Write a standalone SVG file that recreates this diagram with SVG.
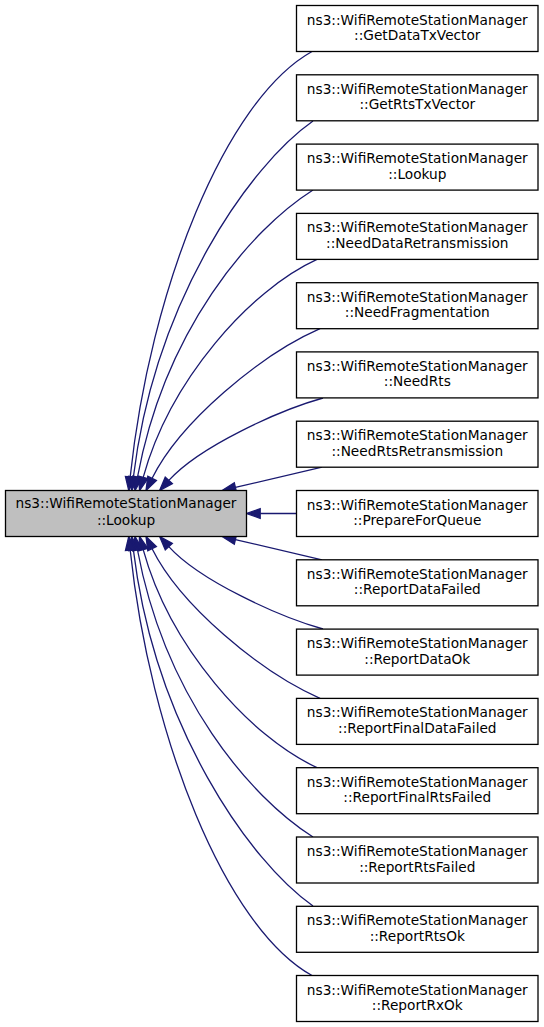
<svg xmlns="http://www.w3.org/2000/svg" width="544" height="1027" viewBox="0 0 544 1027">
<style>
.n rect{fill:#ffffff;stroke:#000000;stroke-width:1.3}
.n.cur rect{fill:#bfbfbf}
.n text{font-family:"DejaVu Sans","Liberation Sans",sans-serif;font-size:13.7px;text-anchor:middle;fill:#000000}
.e path{fill:none;stroke:#191970;stroke-width:1.3;marker-end:url(#ah)}
</style>
<defs>
<marker id="ah" markerUnits="userSpaceOnUse" markerWidth="16" markerHeight="12" viewBox="0 -6 16 12" refX="0" refY="0" orient="auto" overflow="visible">
<path d="M0,-4.8 L13.7,0 L0,4.8 z" fill="#191970" stroke="#191970" stroke-width="1.3"/>
</marker>
</defs>
<rect width="544" height="1027" fill="#ffffff"/>
<g class="e" id="edges">
<path d="M312,51.5 C225,100 150,290 130.2,476.9"/>
<path d="M313,121 C250,165 155,300 133.4,476.9"/>
<path d="M313,190 C250,230 165,330 137.5,477"/>
<path d="M317,259.4 C250,290 170,380 143.2,477.3"/>
<path d="M320,328.7 C260,355 180,422 152.1,478.3"/>
<path d="M323,398 C280,410 200,446 168.8,480.4"/>
<path d="M322,467.2 L235.4,487.4"/>
<path d="M296.5,513.5 L260.2,513.5"/>
<path d="M322,559.8 L235.4,539.6"/>
<path d="M323,629 C280,617 200,581 168.8,546.6"/>
<path d="M320,698.3 C260,672 180,605 152.1,548.7"/>
<path d="M317,767.6 C250,737 170,647 143.2,549.7"/>
<path d="M313,837 C250,797 165,697 137.5,550"/>
<path d="M313,906 C250,862 155,727 133.4,550.1"/>
<path d="M312,975.5 C225,927 150,737 130.2,550.1"/>
</g>
<g class="n cur" id="node_lookup_main"><rect x="5.5" y="490.5" width="241" height="46"/><text x="126" y="508">ns3::WifiRemoteStationManager</text><text x="126" y="524.5">::Lookup</text></g>
<g class="n" id="n1"><rect x="296.5" y="5.5" width="241.5" height="46"/><text x="417.3" y="24.5">ns3::WifiRemoteStationManager</text><text x="417.3" y="40">::GetDataTxVector</text></g>
<g class="n" id="n2"><rect x="296.5" y="74.8" width="241.5" height="46"/><text x="417.3" y="93.8">ns3::WifiRemoteStationManager</text><text x="417.3" y="109.3">::GetRtsTxVector</text></g>
<g class="n" id="n3"><rect x="296.5" y="144.1" width="241.5" height="46"/><text x="417.3" y="163.1">ns3::WifiRemoteStationManager</text><text x="417.3" y="178.6">::Lookup</text></g>
<g class="n" id="n4"><rect x="296.5" y="213.4" width="241.5" height="46"/><text x="417.3" y="232.4">ns3::WifiRemoteStationManager</text><text x="417.3" y="247.9">::NeedDataRetransmission</text></g>
<g class="n" id="n5"><rect x="296.5" y="282.7" width="241.5" height="46"/><text x="417.3" y="301.7">ns3::WifiRemoteStationManager</text><text x="417.3" y="317.2">::NeedFragmentation</text></g>
<g class="n" id="n6"><rect x="296.5" y="351.9" width="241.5" height="46"/><text x="417.3" y="370.9">ns3::WifiRemoteStationManager</text><text x="417.3" y="386.4">::NeedRts</text></g>
<g class="n" id="n7"><rect x="296.5" y="421.2" width="241.5" height="46"/><text x="417.3" y="440.2">ns3::WifiRemoteStationManager</text><text x="417.3" y="455.7">::NeedRtsRetransmission</text></g>
<g class="n" id="n8"><rect x="296.5" y="490.5" width="241.5" height="46"/><text x="417.3" y="509.5">ns3::WifiRemoteStationManager</text><text x="417.3" y="525">::PrepareForQueue</text></g>
<g class="n" id="n9"><rect x="296.5" y="559.8" width="241.5" height="46"/><text x="417.3" y="578.8">ns3::WifiRemoteStationManager</text><text x="417.3" y="594.3">::ReportDataFailed</text></g>
<g class="n" id="n10"><rect x="296.5" y="629.1" width="241.5" height="46"/><text x="417.3" y="648.1">ns3::WifiRemoteStationManager</text><text x="417.3" y="663.6">::ReportDataOk</text></g>
<g class="n" id="n11"><rect x="296.5" y="698.4" width="241.5" height="46"/><text x="417.3" y="717.4">ns3::WifiRemoteStationManager</text><text x="417.3" y="732.9">::ReportFinalDataFailed</text></g>
<g class="n" id="n12"><rect x="296.5" y="767.7" width="241.5" height="46"/><text x="417.3" y="786.7">ns3::WifiRemoteStationManager</text><text x="417.3" y="802.2">::ReportFinalRtsFailed</text></g>
<g class="n" id="n13"><rect x="296.5" y="837" width="241.5" height="46"/><text x="417.3" y="856">ns3::WifiRemoteStationManager</text><text x="417.3" y="871.5">::ReportRtsFailed</text></g>
<g class="n" id="n14"><rect x="296.5" y="906.3" width="241.5" height="46"/><text x="417.3" y="925.3">ns3::WifiRemoteStationManager</text><text x="417.3" y="940.8">::ReportRtsOk</text></g>
<g class="n" id="n15"><rect x="296.5" y="975.5" width="241.5" height="46"/><text x="417.3" y="994.5">ns3::WifiRemoteStationManager</text><text x="417.3" y="1010">::ReportRxOk</text></g>
</svg>
